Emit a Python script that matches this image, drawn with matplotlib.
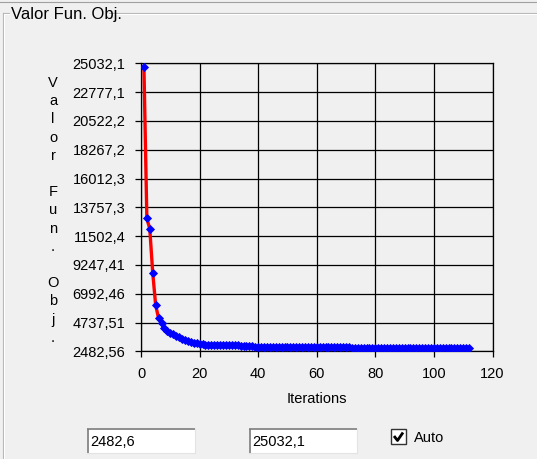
import matplotlib.pyplot as plt
import numpy as np

plt.rcParams['font.family'] = ['Liberation Sans', 'DejaVu Sans']

# best objective value per iteration
obj_values = [
    25032.1, 12870.0, 12020.0, 8510.0, 5920.0, 4850.0, 4500.0, 4050.0, 3830.0, 3690.0,
    3560.0, 3440.0, 3320.0, 3210.0, 3110.0, 3020.0, 2940.0, 2880.0, 2830.0, 2790.0,
    2750.0, 2725.0, 2712.0, 2703.0, 2697.0, 2692.0, 2688.0, 2684.0, 2680.0, 2677.0,
    2674.0, 2671.0, 2668.0, 2665.0, 2600.0, 2596.0, 2592.0, 2589.0, 2586.0, 2583.0,
    2581.0, 2579.0, 2577.0, 2575.0, 2573.0, 2572.0, 2571.0, 2570.0, 2569.0, 2568.0,
    2567.0, 2566.0, 2565.0, 2565.0, 2564.0, 2563.0, 2563.0, 2562.0, 2561.0, 2561.0,
    2560.0, 2559.0, 2559.0, 2558.0, 2557.0, 2557.0, 2556.0, 2512.0, 2510.0, 2508.0,
    2507.0, 2506.0, 2505.0, 2504.0, 2503.0, 2502.0, 2501.0, 2500.0, 2499.0, 2498.0,
    2497.5, 2497.0, 2496.0, 2495.5, 2495.0, 2494.0, 2493.5, 2493.0, 2492.0, 2491.5,
    2491.0, 2490.0, 2489.5, 2489.0, 2488.5, 2488.0, 2487.5, 2487.0, 2486.5, 2486.0,
    2485.5, 2485.0, 2484.8, 2484.5, 2484.2, 2484.0, 2483.7, 2483.4, 2483.2, 2483.0,
    2482.8, 2482.56,
]
iterations = list(range(1, len(obj_values) + 1))

y_min = 2482.56
y_max = 25032.1
y_tick_labels = ['2482,56', '4737,51', '6992,46', '9247,41', '11502,4', '13757,3',
                 '16012,3', '18267,2', '20522,2', '22777,1', '25032,1']
x_ticks = [0, 20, 40, 60, 80, 100, 120]
min_box_text = '2482,6'
max_box_text = '25032,1'

W, H = 537, 459
BG = '#f0f0f0'
FS = 10.5

fig = plt.figure(figsize=(W / 100, H / 100), dpi=100, facecolor=BG)

# window furniture drawn in pixel coordinates
bg = fig.add_axes([0, 0, 1, 1], zorder=0)
bg.set_xlim(0, W)
bg.set_ylim(H, 0)
bg.axis('off')

bg.plot([0, W], [1.5, 1.5], color='#a0a0a0', lw=0.8)
bg.plot([2.5, 9], [13, 13], color='#b4b4b4', lw=0.8)
bg.plot([109, W], [13, 13], color='#b4b4b4', lw=0.8)
bg.plot([3.5, 9], [14, 14], color='white', lw=0.8)
bg.plot([109, W], [14, 14], color='white', lw=0.8)
bg.plot([2.5, 2.5], [13, H], color='#b4b4b4', lw=0.8)
bg.plot([3.5, 3.5], [14, H], color='white', lw=0.8)
bg.text(11, 19.5, 'Valor Fun. Obj.', fontsize=12,
        family=['Liberation Sans Narrow', 'Liberation Sans'], va='baseline')

# stacked vertical axis title
for i, ch in enumerate('Valor Fun. Obj.'):
    bg.text(53, 87 + i * 18.2, ch, fontsize=FS, ha='center', va='baseline')

# min / max entry boxes and Auto checkbox
for x0, x1, txt in [(87, 195, min_box_text), (249, 357, max_box_text)]:
    bg.add_patch(plt.Rectangle((x0, 428), x1 - x0, 25, facecolor='white',
                               edgecolor='none'))
    bg.plot([x0, x1], [429, 429], color='#7a7a7a', lw=1.2,
            solid_capstyle='butt')
    bg.plot([x0 + 0.8, x0 + 0.8], [429, 453], color='#7a7a7a', lw=1.2,
            solid_capstyle='butt')
    bg.plot([x0, x1], [452.5, 452.5], color='#e3e3e3', lw=0.8)
    bg.plot([x1 - 0.5, x1 - 0.5], [429, 453], color='#e3e3e3', lw=0.8)
    bg.text(x0 + 3, 446, txt, fontsize=FS, va='baseline')

bg.add_patch(plt.Rectangle((391, 429), 15, 15, facecolor='white',
                           edgecolor='#333333', lw=1.0))
bg.plot([394, 397.5, 403], [436, 440.5, 432.5], color='black', lw=2.0,
        solid_capstyle='butt')
bg.text(414, 442, 'Auto', fontsize=FS, va='baseline')

# chart frame, grid and ticks
rect = [141 / W, 1 - 351.3 / H, (492.5 - 141) / W, (351.3 - 63.3) / H]
ax = fig.add_axes(rect, zorder=1)
ax.set_facecolor(BG)
ax.set_xlim(0, 120)
ax.set_ylim(y_min, y_max)
ax.set_xticks(x_ticks)
ax.set_xticklabels([str(t) for t in x_ticks])
ax.set_yticks(np.linspace(y_min, y_max, len(y_tick_labels)))
ax.set_yticklabels(y_tick_labels)
ax.grid(True, color='black', lw=0.9)
for s in ax.spines.values():
    s.set_color('black')
    s.set_linewidth(0.9)
ax.tick_params(length=4.3, width=0.9, color='black', labelsize=FS, pad=7)
ax.set_xlabel('Iterations', fontsize=FS, labelpad=8)

# series area is inset by the marker radius inside the frame
inset = (y_max - y_min) * 3.5 / (351.3 - 63.3 - 7)
dax = fig.add_axes(rect, zorder=2)
dax.set_xlim(0, 120)
dax.set_ylim(y_min - inset, y_max + inset)
dax.axis('off')
dax.plot(iterations, obj_values, color='#ff0000', lw=2.4, zorder=2)
dax.plot(iterations, obj_values, ls='none', marker='D', ms=4.2,
         color='#0000ff', mec='#0000ff', mew=0.6, zorder=3)

fig.savefig('out.png', dpi=100, facecolor=BG)
